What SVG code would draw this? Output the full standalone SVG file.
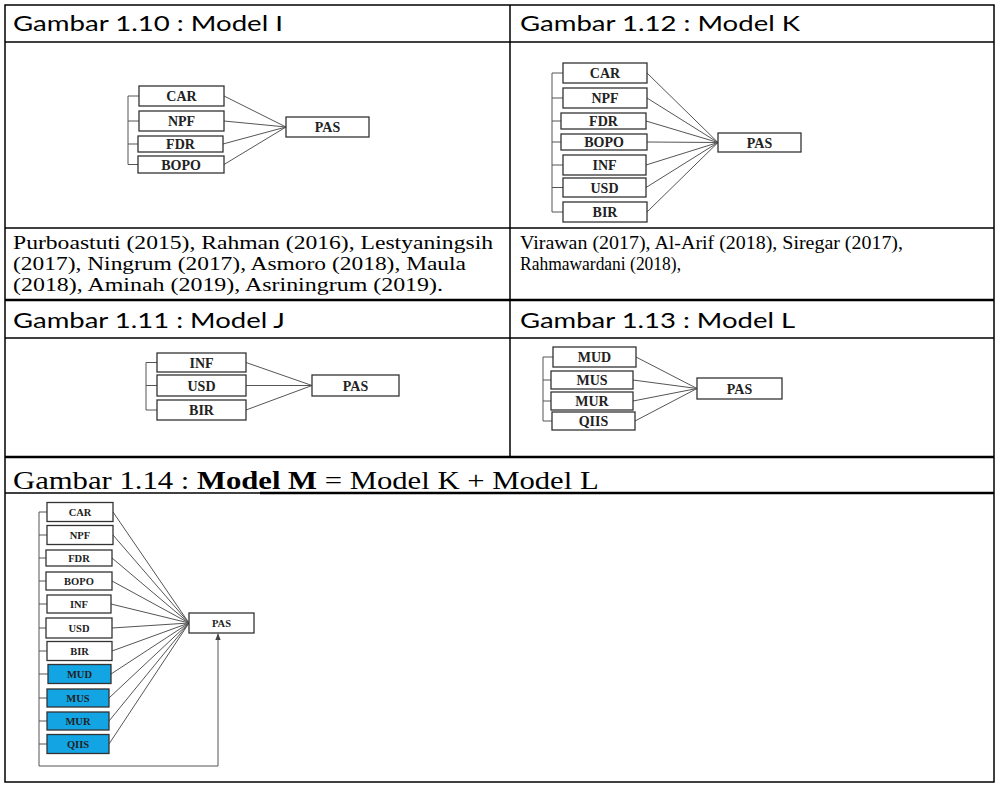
<svg xmlns="http://www.w3.org/2000/svg" width="996" height="786" viewBox="0 0 996 786">
<defs>
<marker id="arr" viewBox="0 0 10 10" refX="9" refY="5" markerWidth="7" markerHeight="7" orient="auto" markerUnits="userSpaceOnUse">
<path d="M0,1 L10,5 L0,9 Z" fill="#444"/>
</marker>
</defs>
<style>
.cell{fill:none;stroke:#000;stroke-width:1.5}
.thick{stroke-width:2.5}
.hdr{font-family:Lato,"Open Sans","Liberation Sans",sans-serif;font-size:22px;fill:#000}
.cit{font-family:"Liberation Serif","Times New Roman",serif;font-size:18px;fill:#000}
.citL{font-size:19.5px}
.big{font-family:"Liberation Serif","Times New Roman",serif;font-size:26px;fill:#000}
.box rect{fill:#fff;stroke:#333;stroke-width:1.3}
.box text{font-family:"Liberation Serif","Times New Roman",serif;font-weight:bold;font-size:14px;text-anchor:middle;fill:#222}
.sm text{font-size:10.5px}
.blue rect{fill:#13a4e4}
.con{stroke:#555;stroke-width:1;fill:none}
</style>
<rect width="996" height="786" fill="#fff"/>

<g id="table">
<rect class="cell" x="5" y="5" width="989" height="777"/>
<line class="cell" x1="5" y1="42" x2="994" y2="42"/>
<line class="cell" x1="5" y1="228" x2="994" y2="228"/>
<line class="cell thick" x1="5" y1="300" x2="994" y2="300"/>
<line class="cell" x1="5" y1="338" x2="994" y2="338"/>
<line class="cell thick" x1="5" y1="457" x2="994" y2="457"/>
<line class="cell" x1="5" y1="493" x2="260" y2="493"/>
<line class="cell thick" x1="260" y1="493" x2="994" y2="493"/>
<line class="cell" x1="510" y1="5" x2="510" y2="457"/>
</g>

<g id="headers">
<text class="hdr" x="13" y="31" textLength="270" lengthAdjust="spacingAndGlyphs">Gambar 1.10 : Model I</text>
<text class="hdr" x="520" y="31" textLength="280" lengthAdjust="spacingAndGlyphs">Gambar 1.12 : Model K</text>
<text class="hdr" x="13" y="328" textLength="272" lengthAdjust="spacingAndGlyphs">Gambar 1.11 : Model J</text>
<text class="hdr" x="520" y="328" textLength="275" lengthAdjust="spacingAndGlyphs">Gambar 1.13 : Model L</text>
<text class="big" transform="translate(13,489) scale(1.18,1)">Gambar 1.14 : <tspan font-weight="bold">Model M</tspan> = Model K + Model L</text>
</g>

<g id="citations">
<text class="cit citL" x="13" y="249" textLength="480" lengthAdjust="spacingAndGlyphs">Purboastuti (2015), Rahman (2016), Lestyaningsih</text>
<text class="cit citL" x="13" y="270" textLength="453" lengthAdjust="spacingAndGlyphs">(2017), Ningrum (2017), Asmoro (2018), Maula</text>
<text class="cit citL" x="13" y="291" textLength="430" lengthAdjust="spacingAndGlyphs">(2018), Aminah (2019), Asriningrum (2019).</text>
<text class="cit" x="520" y="249" textLength="383" lengthAdjust="spacingAndGlyphs">Virawan (2017), Al-Arif (2018), Siregar (2017),</text>
<text class="cit" x="520" y="270" textLength="161" lengthAdjust="spacingAndGlyphs">Rahmawardani (2018),</text>
</g>

<g id="connectors">
<!-- Model I -->
<path class="con" d="M139,96 H128 V164.5 H138 M128,121 H139 M128,144 H138"/>
<path class="con" d="M224,96 L286,127 M224,121 L286,127 M223,144 L286,127 M224,164.5 L286,127"/>
<!-- Model K -->
<path class="con" d="M563,73 H552 V212 H563 M552,98 H563 M552,121 H561 M552,142 H561 M552,165 H563 M552,187.5 H563"/>
<path class="con" d="M647,73 L718,142.5 M647,98 L718,142.5 M646,121 L718,142.5 M647,142 L718,142.5 M646,165 L718,142.5 M646,187.5 L718,142.5 M647,212 L718,142.5"/>
<!-- Model J -->
<path class="con" d="M157,362.5 H146 V410 H157 M146,385.5 H157"/>
<path class="con" d="M246,362.5 L312,385.5 M246,385.5 L312,385.5 M246,410 L312,385.5"/>
<!-- Model L -->
<path class="con" d="M553,357 H543 V421 H552 M543,380 H551 M543,401 H551"/>
<path class="con" d="M636,357 L697,388.5 M633,380 L697,388.5 M633,401 L697,388.5 M635,421 L697,388.5"/>
<!-- Model M -->
<path class="con" d="M47,512 H39 V766 M39,535 H47 M39,558 H46 M39,581 H46 M39,604 H47 M39,628 H46 M39,651 H47 M39,674 H48 M39,698 H47 M39,721 H47 M39,744 H47"/>
<path class="con" d="M113,512 L189,623 M113,535 L189,623 M112,558 L189,623 M112,581 L189,623 M111,604 L189,623 M112,628 L189,623 M112,651 L189,623 M111,674 L189,623 M109,698 L189,623 M109,721 L189,623 M109,744 L189,623"/>
<path class="con" d="M39,766 H218 V634" marker-end="url(#arr)"/>
</g>

<!-- Model I nodes -->
<g id="I-CAR" class="box"><rect x="139" y="86" width="85" height="20"/><text x="181.5" y="101">CAR</text></g>
<g id="I-NPF" class="box"><rect x="139" y="111" width="85" height="20"/><text x="181.5" y="126">NPF</text></g>
<g id="I-FDR" class="box"><rect x="138" y="136" width="85" height="16"/><text x="180.5" y="149">FDR</text></g>
<g id="I-BOPO" class="box"><rect x="138" y="156" width="86" height="17"/><text x="181" y="169.5">BOPO</text></g>
<g id="I-PAS" class="box"><rect x="286" y="117" width="83" height="20"/><text x="327.5" y="132">PAS</text></g>

<!-- Model K nodes -->
<g id="K-CAR" class="box"><rect x="563" y="63" width="84" height="20"/><text x="605" y="78">CAR</text></g>
<g id="K-NPF" class="box"><rect x="563" y="88" width="84" height="20"/><text x="605" y="103">NPF</text></g>
<g id="K-FDR" class="box"><rect x="561" y="113" width="85" height="16"/><text x="603.5" y="126">FDR</text></g>
<g id="K-BOPO" class="box"><rect x="561" y="134" width="86" height="16"/><text x="604" y="147">BOPO</text></g>
<g id="K-INF" class="box"><rect x="563" y="155" width="83" height="20"/><text x="604.5" y="170">INF</text></g>
<g id="K-USD" class="box"><rect x="563" y="178" width="83" height="19"/><text x="604.5" y="192.5">USD</text></g>
<g id="K-BIR" class="box"><rect x="563" y="202" width="84" height="20"/><text x="605" y="217">BIR</text></g>
<g id="K-PAS" class="box"><rect x="718" y="133" width="83" height="19"/><text x="759.5" y="147.5">PAS</text></g>

<!-- Model J nodes -->
<g id="J-INF" class="box"><rect x="157" y="353" width="89" height="19"/><text x="201.5" y="367.5">INF</text></g>
<g id="J-USD" class="box"><rect x="157" y="375" width="89" height="21"/><text x="201.5" y="390.5">USD</text></g>
<g id="J-BIR" class="box"><rect x="157" y="400" width="89" height="20"/><text x="201.5" y="415">BIR</text></g>
<g id="J-PAS" class="box"><rect x="312" y="375" width="87" height="21"/><text x="355.5" y="390.5">PAS</text></g>

<!-- Model L nodes -->
<g id="L-MUD" class="box"><rect x="553" y="347" width="83" height="20"/><text x="594.5" y="362">MUD</text></g>
<g id="L-MUS" class="box"><rect x="551" y="371" width="82" height="18"/><text x="592" y="385">MUS</text></g>
<g id="L-MUR" class="box"><rect x="551" y="392" width="82" height="18"/><text x="592" y="406">MUR</text></g>
<g id="L-QIIS" class="box"><rect x="552" y="412" width="83" height="18"/><text x="593.5" y="426">QIIS</text></g>
<g id="L-PAS" class="box"><rect x="697" y="378" width="85" height="21"/><text x="739.5" y="393.5">PAS</text></g>

<!-- Model M nodes -->
<g id="M-CAR" class="box sm"><rect x="47" y="502.5" width="66" height="19"/><text x="80" y="515.5">CAR</text></g>
<g id="M-NPF" class="box sm"><rect x="47" y="525.5" width="66" height="19"/><text x="80" y="538.5">NPF</text></g>
<g id="M-FDR" class="box sm"><rect x="46" y="550" width="66" height="16"/><text x="79" y="561.5">FDR</text></g>
<g id="M-BOPO" class="box sm"><rect x="46" y="572" width="66" height="18"/><text x="79" y="584.5">BOPO</text></g>
<g id="M-INF" class="box sm"><rect x="47" y="595" width="64" height="18"/><text x="79" y="607.5">INF</text></g>
<g id="M-USD" class="box sm"><rect x="46" y="618" width="66" height="20"/><text x="79" y="631.5">USD</text></g>
<g id="M-BIR" class="box sm"><rect x="47" y="641.5" width="65" height="19"/><text x="79.5" y="654.5">BIR</text></g>
<g id="M-MUD" class="box sm blue"><rect x="48" y="664.5" width="63" height="19"/><text x="79.5" y="677.5">MUD</text></g>
<g id="M-MUS" class="box sm blue"><rect x="47" y="689" width="62" height="18"/><text x="78" y="701.5">MUS</text></g>
<g id="M-MUR" class="box sm blue"><rect x="47" y="712" width="62" height="18"/><text x="78" y="724.5">MUR</text></g>
<g id="M-QIIS" class="box sm blue"><rect x="47" y="734.5" width="62" height="19"/><text x="78" y="747.5">QIIS</text></g>
<g id="M-PAS" class="box sm"><rect x="189" y="613" width="65" height="20"/><text x="221.5" y="626.5">PAS</text></g>
</svg>
